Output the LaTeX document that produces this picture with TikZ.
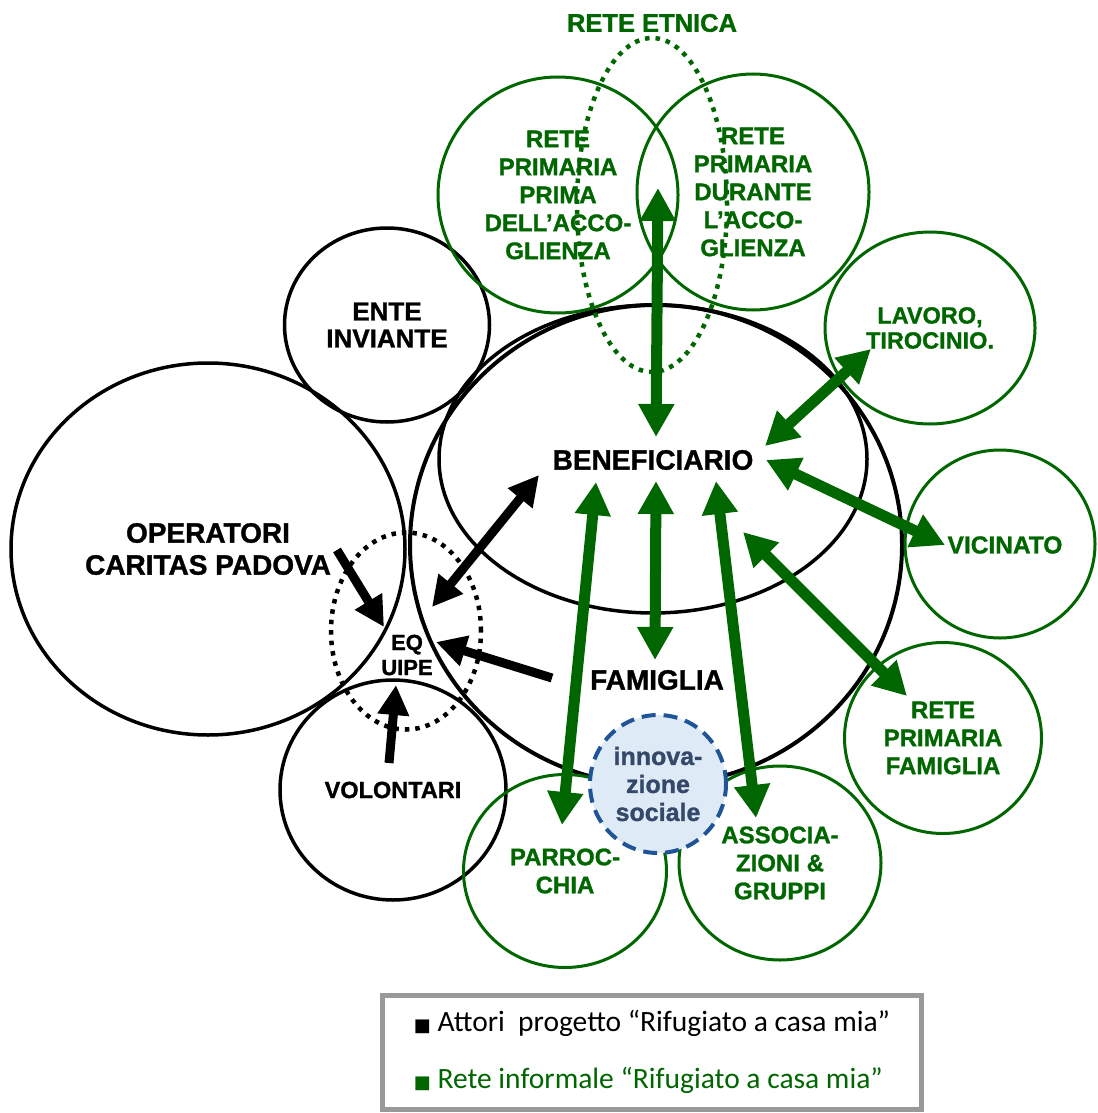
\documentclass[tikz,border=0pt]{standalone}
\usepackage{fontspec}
\setmainfont[BoldFeatures={FakeBold=1.2}]{Liberation Sans}
\newfontfamily\keyfont{Carlito}
\newfontfamily\symfont{DejaVu Sans}
\usetikzlibrary{shapes.geometric, arrows.meta}

\definecolor{vgreen}{RGB}{0,102,0}
\definecolor{innofill}{RGB}{222,235,247}
\definecolor{innoedge}{RGB}{31,84,150}
\definecolor{innotext}{RGB}{52,73,105}
\newcommand\keysq{{\symfont\fontsize{18}{18}\selectfont ■}}

\begin{document}
\begin{tikzpicture}[x=1pt, y=-1pt,
  ring/.style={ellipse, draw, line width=3.5pt, inner sep=0pt, align=center,
    font=\bfseries\fontsize{28}{32}\selectfont},
  gring/.style={ring, draw=vgreen, text=vgreen, line width=3pt,
    font=\bfseries\fontsize{24}{28}\selectfont},
  wh/.style 2 args={minimum width=#1pt, minimum height=#2pt},
  dots/.style={ellipse, draw, line width=4.5pt, dash pattern=on 4.5pt off 6pt},
  lbl/.style={inner sep=0pt, align=center, font=\bfseries\fontsize{28}{32}\selectfont},
  garrow/.style={color=vgreen, line width=11pt,
    {Triangle[length=33pt,width=34pt]}-{Triangle[length=33pt,width=34pt]}},
  barrow/.style={color=black, line width=9pt, -{Triangle[length=30pt,width=30pt]}},
  bboth/.style={{Triangle[length=30pt,width=30pt]}-{Triangle[length=30pt,width=30pt]}},
  ]
  \useasboundingbox (0,0) rectangle (1097,1113);

  % black circles
  \node[ring, wh={394}{372}] (oper) at (208,549) {OPERATORI\\CARITAS PADOVA};
  \node[ring, wh={205}{194}, font=\bfseries\fontsize{26}{27}\selectfont] (ente) at (387,325) {ENTE\\INVIANTE};
  \node[ring, wh={226}{220}, font=\bfseries\fontsize{23.5}{27}\selectfont] (vol) at (393,790) {VOLONTARI};
  \node[ring, wh={492}{480}, line width=4pt] (famring) at (656,545) {};
  \node[ring, wh={428}{308}] (benring) at (653,459) {};
  \node[dots, wh={150}{197}] (eqring) at (406,631) {};

  % green circles
  \node[gring, wh={240}{236}] (prima) at (558,195) {RETE\\PRIMARIA\\PRIMA\\DELL’ACCO-\\GLIENZA};
  \node[gring, wh={232}{236}] (durante) at (753,192) {RETE\\PRIMARIA\\DURANTE\\L’ACCO-\\GLIENZA};
  \node[gring, wh={210}{192}, font=\bfseries\fontsize{23.5}{25}\selectfont] (lavoro) at (930,328) {LAVORO,\\TIROCINIO.};
  \node[gring, wh={190}{188}] (vicinato) at (1000,544) {};
  \node[gring, wh={197}{191}] (famiglia) at (943,738) {RETE\\PRIMARIA\\FAMIGLIA};
  \node[gring, wh={203}{193}] (parroc) at (565,871) {PARROC-\\CHIA};
  \node[gring, wh={202}{194}] (assoc) at (780,863) {ASSOCIA-\\ZIONI \&\\GRUPPI};
  \node[dots, draw=vgreen, wh={150}{334}] (etnica) at (652,205) {};
  \node[lbl, text=vgreen, font=\bfseries\fontsize{25.5}{28}\selectfont] (etnicalbl) at (652,23) {RETE ETNICA};
  \node[lbl, text=vgreen, font=\bfseries\fontsize{24.5}{28}\selectfont] (vicinlbl) at (1005,545) {VICINATO};

  \node[ellipse, draw=innoedge, fill=innofill, line width=4pt, dash pattern=on 14pt off 8pt,
    wh={136}{138}, inner sep=0pt, align=center, text=innotext,
    font=\bfseries\fontsize{25}{28}\selectfont] (innov) at (658,784) {innova-\\zione\\sociale};

  % labels
  \node[lbl] (ben) at (653,460) {BENEFICIARIO};
  \node[lbl] (fam) at (657,680) {FAMIGLIA};
  \node[lbl, font=\bfseries\fontsize{22}{25}\selectfont] (eq) at (407,655) {EQ\\UIPE};

  % arrow ends
  \coordinate (lens) at (658,188);
  \coordinate (ben-n) at (656,437);
  \coordinate (ben-ne) at (765,446);
  \coordinate (lav-sw) at (871,349);
  \coordinate (ben-e) at (766,460);
  \coordinate (vic-w) at (945,545);
  \coordinate (ben-se) at (743,532);
  \coordinate (rpf-nw) at (907,696);
  \coordinate (ben-s) at (656,481);
  \coordinate (fam-n) at (655,660);
  \coordinate (ben-sw) at (596,482);
  \coordinate (par-n) at (562,825);
  \coordinate (ben-s2) at (716,481);
  \coordinate (ass-n) at (756,818);
  \coordinate (oper-e) at (337,550);
  \coordinate (eq-nw) at (384,627);
  \coordinate (ben-w) at (539,475);
  \coordinate (eq-ne) at (432,607);
  \coordinate (fam-w) at (552,678);
  \coordinate (eq-e) at (436,642);
  \coordinate (vol-n) at (389,763);
  \coordinate (eq-s) at (396,685);

  \path[garrow]
  (lens) edge (ben-n)
  (ben-ne) edge (lav-sw)
  (ben-e) edge (vic-w)
  (ben-se) edge (rpf-nw)
  (ben-s) edge (fam-n)
  (ben-sw) edge (par-n)
  (ben-s2) edge (ass-n);

  \path[barrow]
  (oper-e) edge (eq-nw)
  (ben-w) edge[bboth] (eq-ne)
  (fam-w) edge (eq-e)
  (vol-n) edge (eq-s);

  % legend
  \node[draw=black!40, line width=5pt, fill=white, wh={539}{114}, inner sep=0pt, align=left,
    font=\keyfont\fontsize{29.5}{57}\selectfont] (key) at (652,1052)
    {\keysq\ Attori\ \ progetto “Rifugiato a casa mia”\\
     \textcolor{vgreen}{\keysq\ Rete informale “Rifugiato a casa mia”}};
\end{tikzpicture}
\end{document}
